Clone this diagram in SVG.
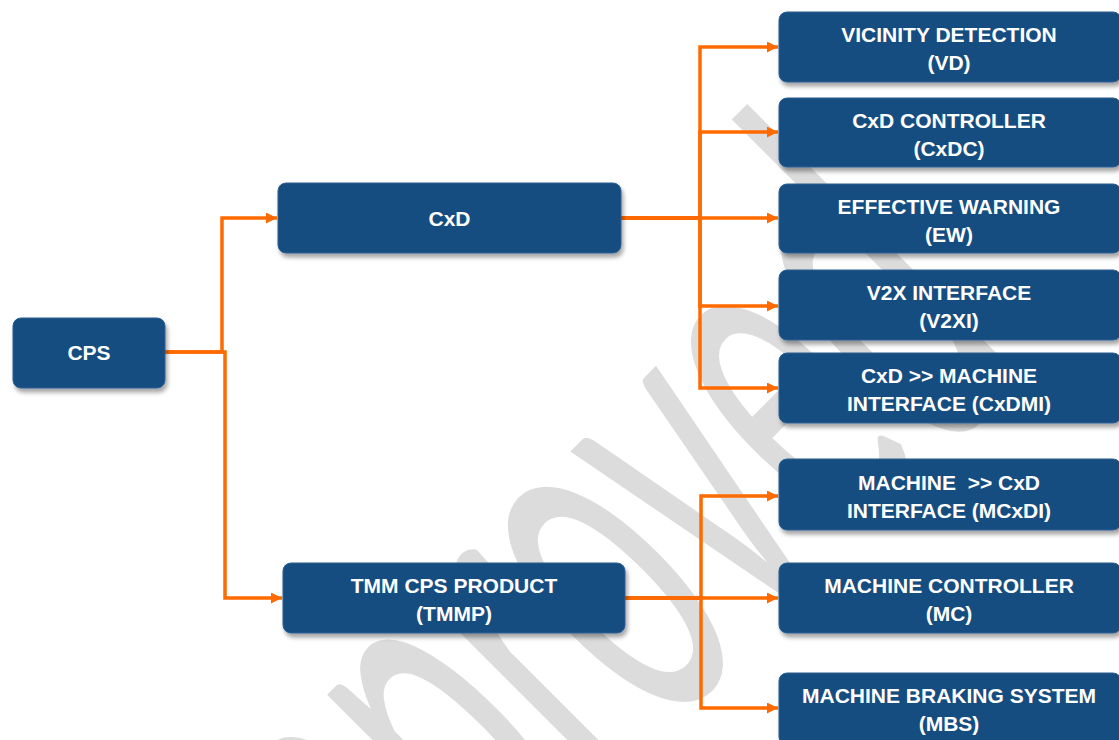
<svg xmlns="http://www.w3.org/2000/svg" width="1119" height="740" viewBox="0 0 1119 740">
  <defs>
    <filter id="shadow" x="-10%" y="-20%" width="125%" height="150%">
      <feDropShadow dx="2" dy="4" stdDeviation="2" flood-color="#000" flood-opacity="0.35"/>
    </filter>
    <marker id="arrow" markerUnits="userSpaceOnUse" markerWidth="11" markerHeight="11" refX="11" refY="5.5" orient="auto">
      <path d="M0,0 L11,5.5 L0,11 z" fill="#ff6a00"/>
    </marker>
    <style>
      .box { fill: #184e81; stroke: #2a5e92; stroke-width: 1; filter: url(#shadow); }
      .lbl { font-family: "Liberation Sans", Arial, sans-serif; font-weight: bold; font-size: 21px; fill: #ffffff; text-anchor: middle; }
      .conn path { fill: none; stroke: #ff6a00; stroke-width: 3.5; stroke-linejoin: miter; }
      .conn path.arr { marker-end: url(#arrow); }
      .wm { font-family: Lato, "Liberation Sans", sans-serif; font-size: 300px; fill: #dcdcdc; }
    </style>
  </defs>

  <rect width="1119" height="740" fill="#ffffff"/>

  <!-- background watermark -->
  <text class="wm" x="0" y="0" transform="translate(288 1110) rotate(-45) scale(0.82 1.75)">Approved</text>

  <!-- connectors -->
  <g id="connectors" class="conn">
    <path class="arr" d="M165,352 H222 V218 H277"/>
    <path class="arr" d="M165,352 H225 V598 H282"/>
    <path class="arr" d="M621,218 H700 V47 H778"/>
    <path class="arr" d="M621,218 H700 V132 H778"/>
    <path class="arr" d="M621,218 H778"/>
    <path class="arr" d="M621,218 H700 V306 H778"/>
    <path class="arr" d="M621,218 H700 V388 H778"/>
    <path class="arr" d="M625,598 H701 V496 H778"/>
    <path class="arr" d="M625,598 H778"/>
    <path class="arr" d="M625,598 H701 V708 H778"/>
  </g>

  <!-- nodes -->
  <g id="cps">
    <rect class="box" x="13" y="318" width="152" height="70" rx="8"/>
    <text class="lbl" x="89" y="360">CPS</text>
  </g>
  <g id="cxd">
    <rect class="box" x="278" y="183" width="343" height="70" rx="8"/>
    <text class="lbl" x="449.5" y="226">CxD</text>
  </g>
  <g id="tmmp">
    <rect class="box" x="283" y="563" width="342" height="70" rx="8"/>
    <text class="lbl" x="454" y="593">TMM CPS PRODUCT</text>
    <text class="lbl" x="454" y="621">(TMMP)</text>
  </g>
  <g id="vd">
    <rect class="box" x="779" y="12" width="342" height="70" rx="8"/>
    <text class="lbl" x="949" y="42">VICINITY DETECTION</text>
    <text class="lbl" x="949" y="70">(VD)</text>
  </g>
  <g id="cxdc">
    <rect class="box" x="779" y="98" width="342" height="69" rx="8"/>
    <text class="lbl" x="949" y="128">CxD CONTROLLER</text>
    <text class="lbl" x="949" y="156">(CxDC)</text>
  </g>
  <g id="ew">
    <rect class="box" x="779" y="184" width="342" height="69" rx="8"/>
    <text class="lbl" x="949" y="214">EFFECTIVE WARNING</text>
    <text class="lbl" x="949" y="242">(EW)</text>
  </g>
  <g id="v2xi">
    <rect class="box" x="779" y="270" width="342" height="70" rx="8"/>
    <text class="lbl" x="949" y="300">V2X INTERFACE</text>
    <text class="lbl" x="949" y="328">(V2XI)</text>
  </g>
  <g id="cxdmi">
    <rect class="box" x="779" y="353" width="342" height="70" rx="8"/>
    <text class="lbl" x="949" y="383">CxD &gt;&gt; MACHINE</text>
    <text class="lbl" x="949" y="411">INTERFACE (CxDMI)</text>
  </g>
  <g id="mcxdi">
    <rect class="box" x="779" y="459" width="342" height="71" rx="8"/>
    <text class="lbl" x="949" y="490" xml:space="preserve">MACHINE  &gt;&gt; CxD</text>
    <text class="lbl" x="949" y="518">INTERFACE (MCxDI)</text>
  </g>
  <g id="mc">
    <rect class="box" x="779" y="563" width="342" height="70" rx="8"/>
    <text class="lbl" x="949" y="593">MACHINE CONTROLLER</text>
    <text class="lbl" x="949" y="621">(MC)</text>
  </g>
  <g id="mbs">
    <rect class="box" x="779" y="673" width="342" height="72" rx="8"/>
    <text class="lbl" x="949" y="703">MACHINE BRAKING SYSTEM</text>
    <text class="lbl" x="949" y="731">(MBS)</text>
  </g>
</svg>
